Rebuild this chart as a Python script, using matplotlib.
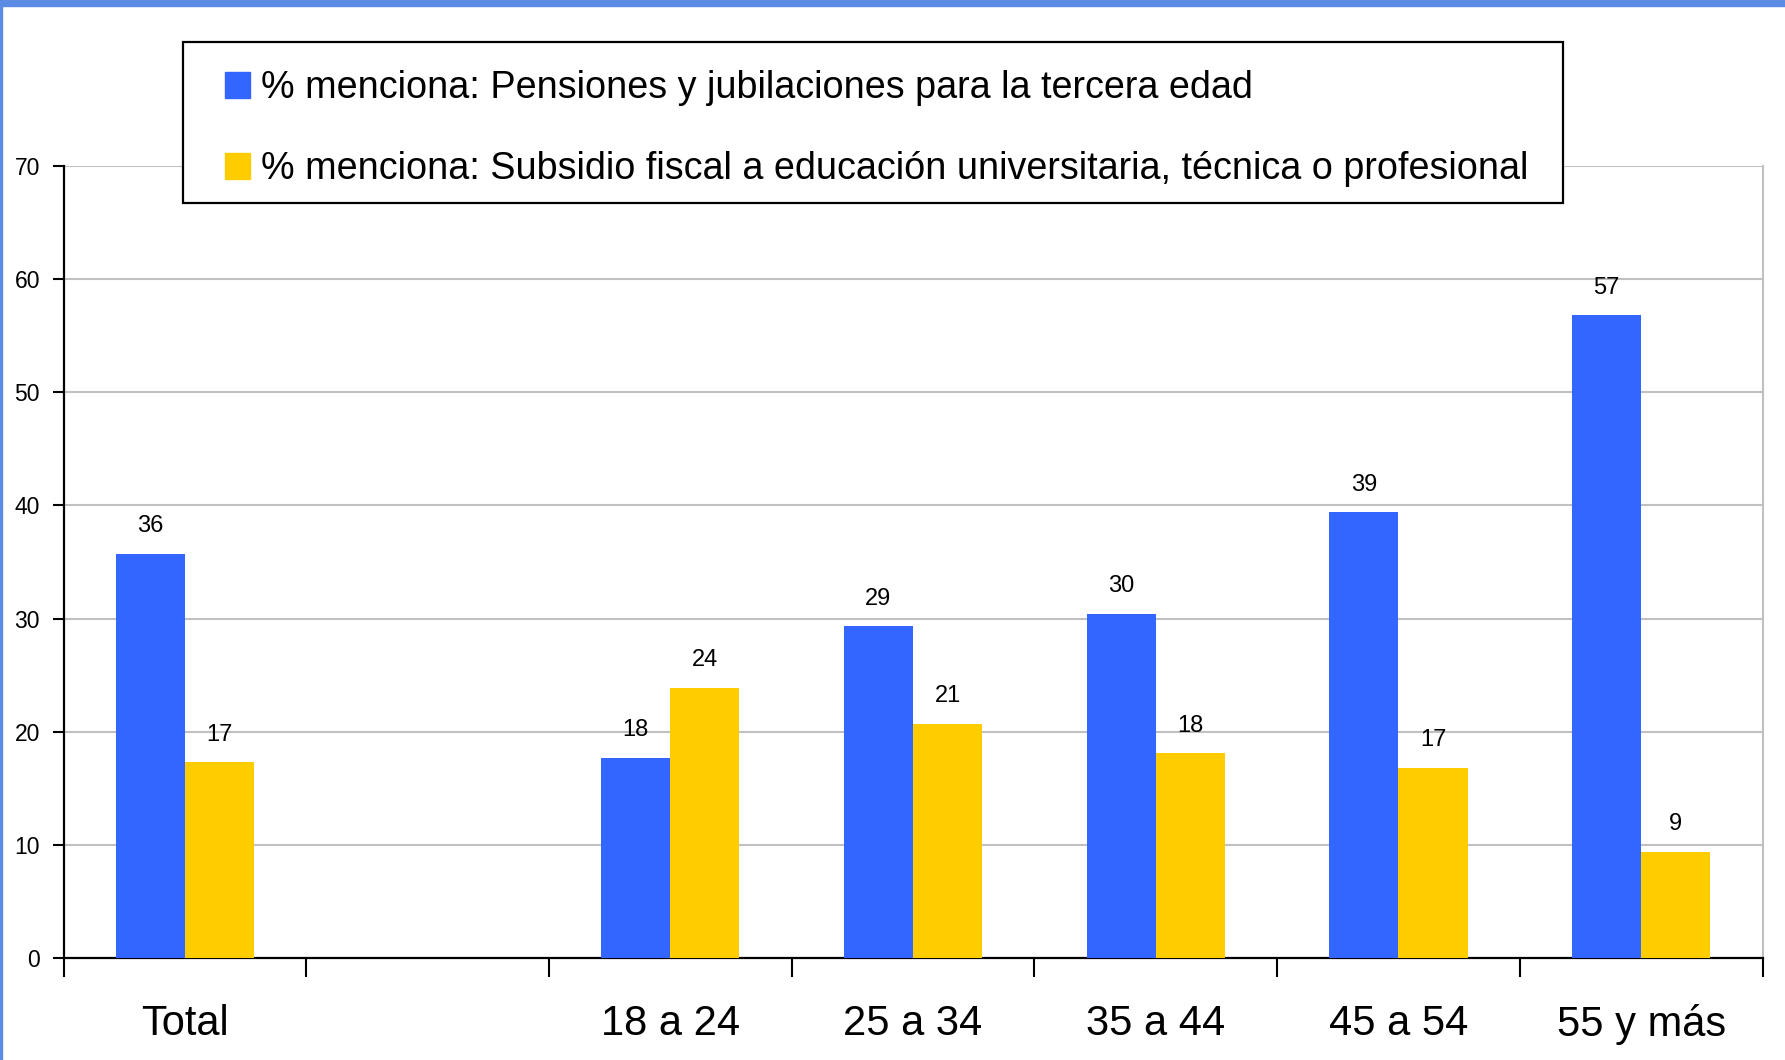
import matplotlib
matplotlib.use("Agg")
import matplotlib.pyplot as plt
import matplotlib.patches as mpatches
from matplotlib.legend_handler import HandlerPatch
import numpy as np

plt.rcParams["font.family"] = ["Liberation Sans", "DejaVu Sans"]

categories = ["Total", "", "18 a 24", "25 a 34", "35 a 44", "45 a 54", "55 y más"]
pensiones = [35.7, None, 17.7, 29.3, 30.4, 39.4, 56.8]
subsidio = [17.3, None, 23.9, 20.7, 18.1, 16.8, 9.4]
series_names = [
    "% menciona: Pensiones y jubilaciones para la tercera edad",
    "% menciona: Subsidio fiscal a educación universitaria, técnica o profesional",
]
blue = "#3366ff"
yellow = "#ffcc00"
grid_gray = "#c0c0c0"

W, H = 1785, 1060
fig = plt.figure(figsize=(W / 100, H / 100), dpi=100)
ax = fig.add_axes([63.5 / W, 1 - 958 / H, (1762.5 - 63.5) / W, (958 - 166) / H])

x = np.arange(len(categories))
width = 0.285
for values, offset, color in [(pensiones, -width / 2, blue), (subsidio, width / 2, yellow)]:
    idx = [i for i, v in enumerate(values) if v is not None]
    vals = [values[i] for i in idx]
    ax.bar(x[idx] + offset, vals, width, color=color, zorder=3)
    for xi, v in zip(x[idx] + offset, vals):
        ax.annotate(f"{round(v):d}", (xi, v), xytext=(0, 12), textcoords="offset points",
                    ha="center", va="bottom", fontsize=17, color="black")

ax.set_xlim(-0.5, len(categories) - 0.5)
ax.set_ylim(0, 70)
ax.set_yticks(np.arange(0, 71, 10))
ax.yaxis.grid(True, color=grid_gray, linewidth=1.5, zorder=0)
ax.set_axisbelow(True)

ax.set_xticks(np.arange(-0.5, len(categories), 1.0))
ax.set_xticklabels([])
ax.set_xticks(x, minor=True)
ax.set_xticklabels(categories, minor=True, fontsize=30)
ax.tick_params(axis="x", which="major", direction="out", length=14, width=1.5, color="black")
ax.tick_params(axis="x", which="minor", length=0, pad=33)
ax.tick_params(axis="y", direction="out", length=8, width=1.5, labelsize=16.5, pad=9)

for side in ["left", "bottom"]:
    ax.spines[side].set_linewidth(1.6)
    ax.spines[side].set_color("black")
ax.spines["top"].set_visible(False)
ax.spines["right"].set_color(grid_gray)
ax.spines["right"].set_linewidth(1.5)


def square_handle(legend, orig_handle, xdescent, ydescent, width, height, fontsize):
    return mpatches.Rectangle((-xdescent + width - height, -ydescent), height, height)


# legend frame drawn separately so the padding can be uneven
box = (182.7, 41.7, 1563.0, 203.3)
fig.patches.append(mpatches.Rectangle(
    (box[0] / W, 1 - box[3] / H), (box[2] - box[0]) / W, (box[3] - box[1]) / H,
    transform=fig.transFigure, facecolor="white", edgecolor="black", linewidth=1.6, zorder=4))

handles = [mpatches.Rectangle((0, 0), 1, 1, color=c) for c in (blue, yellow)]
leg = fig.legend(
    handles, series_names,
    loc="upper left",
    bbox_to_anchor=(box[0] / W, 1 - 44.0 / H),
    bbox_transform=fig.transFigure,
    borderaxespad=0,
    fontsize=27.2,
    frameon=False,
    borderpad=0.7,
    labelspacing=1.19,
    handlelength=1.09,
    handleheight=0.67,
    handletextpad=0.29,
    handler_map={mpatches.Rectangle: HandlerPatch(patch_func=square_handle)},
)
leg.set_zorder(6)

# blue frame of the slide
fig.patches.append(mpatches.Rectangle((0, 1 - 6 / H), 1, 6 / H, transform=fig.transFigure,
                                      color="#5b8be2", zorder=10))
fig.patches.append(mpatches.Rectangle((0, 0), 1.5 / W, 1, transform=fig.transFigure,
                                      color="#5b8be2", zorder=10))

fig.savefig("out.png", dpi=100, facecolor="white")
